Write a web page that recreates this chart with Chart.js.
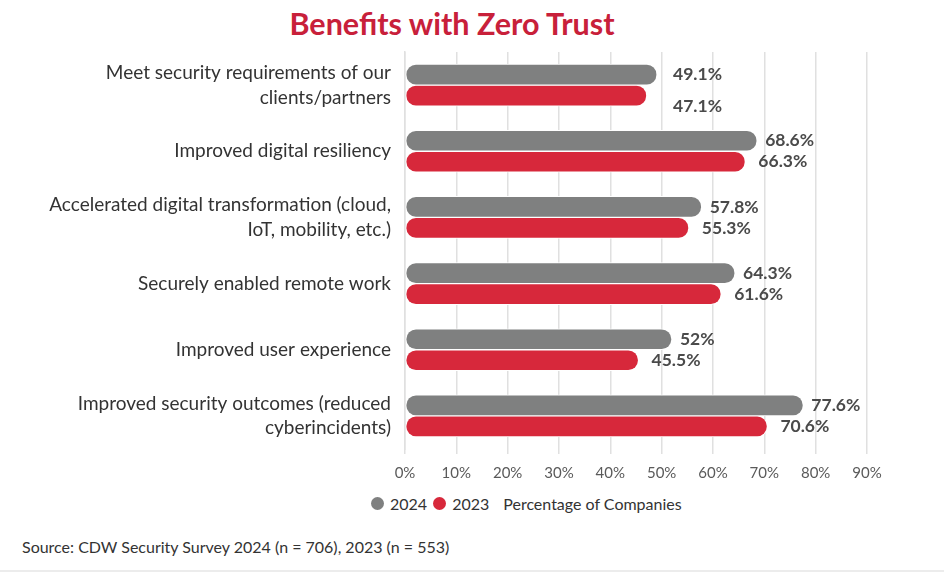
<!DOCTYPE html>
<html>
<head>
<meta charset="utf-8">
<script src="https://cdn.jsdelivr.net/npm/chart.js@4"></script>
<style>
  html, body { margin: 0; padding: 0; background: #fff; }
  #frame { position: relative; width: 944px; height: 572px; overflow: hidden; font-family: Lato, "Open Sans", sans-serif; border-bottom: 2px solid #ececec; box-sizing: border-box; }
  #title { position: absolute; top: 5px; left: 0; width: 904px; text-align: center; font-size: 30.5px; font-weight: bold; color: #c8203a; }
  #chart-wrap { position: absolute; left: 0; top: 0; width: 944px; height: 494px; }
  #legend { position: absolute; top: 494px; left: 371px; display: flex; align-items: center; font-size: 16px; color: #333; white-space: nowrap; }
  #legend .dot { display: inline-block; width: 13px; height: 13px; border-radius: 50%; margin-right: 6px; }
  #legend .item { display: flex; align-items: center; margin-right: 6px; }
  #legend .axis-name { margin-left: 8px; }
  #source { position: absolute; left: 22px; top: 537px; font-size: 16px; color: #333; }
</style>
</head>
<body>
<div id="frame">
  <div id="title">Benefits with Zero Trust</div>
  <div id="chart-wrap"><canvas id="chart"></canvas></div>
  <div id="legend"></div>
  <div id="source">Source: CDW Security Survey 2024 (n = 706), 2023 (n = 553)</div>
</div>
<script>
const CATEGORIES = [
  ["Meet security requirements of our", "clients/partners"],
  ["Improved digital resiliency"],
  ["Accelerated digital transformation (cloud,", "IoT, mobility, etc.)"],
  ["Securely enabled remote work"],
  ["Improved user experience"],
  ["Improved security outcomes (reduced", "cyberincidents)"]
];
const SERIES_2024 = [49.1, 68.6, 57.8, 64.3, 52, 77.6];
const SERIES_2023 = [47.1, 66.3, 55.3, 61.6, 45.5, 70.6];
const X_TICKS = [0, 10, 20, 30, 40, 50, 60, 70, 80, 90];

const GRAY = "#7f8080";
const RED = "#d7283b";
const FONT = "Lato, 'Open Sans', sans-serif";

// value labels next to each bar end
const valueLabels = {
  id: "valueLabels",
  afterDatasetsDraw(chart) {
    const ctx = chart.ctx;
    ctx.save();
    ctx.font = `bold 17.5px ${FONT}`;
    ctx.fillStyle = "#4a4a4a";
    ctx.textBaseline = "middle";
    ctx.textAlign = "left";
    chart.data.datasets.forEach((dataset, di) => {
      const meta = chart.getDatasetMeta(di);
      meta.data.forEach((bar, i) => {
        let x = bar.x + (di === 0 ? 8 : 13);
        let y = bar.y;
        // first group: reference sets the 2023 label lower, aligned with the 2024 one
        if (i === 0 && di === 1) {
          x = chart.getDatasetMeta(0).data[0].x + 16;
          y = bar.y + 11;
        } else if (i === 0) {
          x = bar.x + 16;
        }
        ctx.fillText(dataset.data[i] + "%", x, y);
      });
    });
    ctx.restore();
  }
};

new Chart(document.getElementById("chart"), {
  type: "bar",
  data: {
    labels: CATEGORIES,
    datasets: [
      { label: "2024", data: SERIES_2024, backgroundColor: GRAY, borderColor: "#fff", borderWidth: 1, borderRadius: 11, borderSkipped: false, barThickness: 21 },
      { label: "2023", data: SERIES_2023, backgroundColor: RED, borderColor: "#fff", borderWidth: 1, borderRadius: 11, borderSkipped: false, barThickness: 21 }
    ]
  },
  options: {
    indexAxis: "y",
    responsive: true,
    maintainAspectRatio: false,
    animation: false,
    layout: { padding: { left: 0, right: 77, top: 52, bottom: 2 } },
    plugins: {
      legend: { display: false },
      tooltip: { enabled: false }
    },
    scales: {
      x: {
        min: 0,
        max: 90,
        afterBuildTicks: scale => { scale.ticks = X_TICKS.map(v => ({ value: v })); },
        grid: { color: "#e0e0e0", lineWidth: 1.5, drawTicks: true, tickLength: 5, tickColor: "#e0e0e0" },
        border: { display: false },
        ticks: { color: "#5a5a5a", padding: 10, font: { family: FONT, size: 15 }, callback: v => v + "%" }
      },
      y: {
        afterFit: scale => { scale.width = 405; },
        grid: { display: false },
        border: { display: true, color: "#e0e0e0", width: 1.5 },
        ticks: { color: "#333", padding: 6, font: { family: FONT, size: 19, lineHeight: 1.3 } }
      }
    }
  },
  plugins: [valueLabels]
});

const legend = document.getElementById("legend");
legend.innerHTML =
  `<span class="item"><span class="dot" style="background:${GRAY}"></span>2024</span>` +
  `<span class="item"><span class="dot" style="background:${RED}"></span>2023</span>` +
  `<span class="axis-name">Percentage of Companies</span>`;
</script>
</body>
</html>
